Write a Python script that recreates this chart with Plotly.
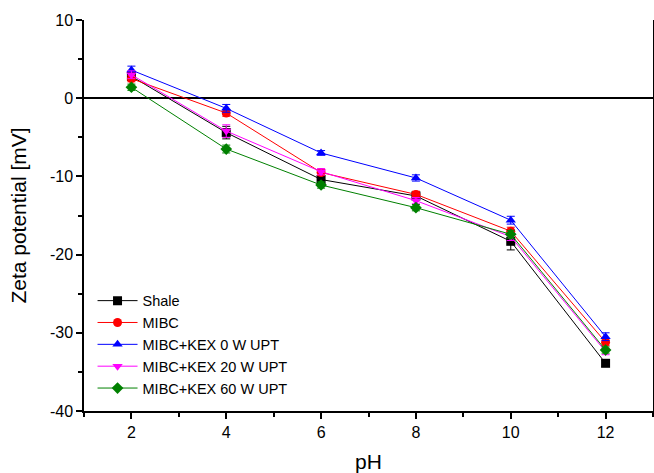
import plotly.graph_objects as go

ph = [2, 4, 6, 8, 10, 12]

names = ["Shale", "MIBC", "MIBC+KEX 0 W UPT", "MIBC+KEX 20 W UPT", "MIBC+KEX 60 W UPT"]

shale = [2.8, -4.4, -10.4, -12.5, -18.3, -33.9]
mibc = [2.5, -1.9, -9.5, -12.3, -17.0, -31.2]
kex0 = [3.6, -1.3, -7.0, -10.2, -15.6, -30.5]
kex20 = [3.0, -4.2, -9.4, -13.1, -17.7, -32.4]
kex60 = [1.4, -6.5, -11.1, -14.0, -17.4, -32.2]

err_shale = [0.5, 0.8, 0.4, 0.4, 1.1, 0.4]
err_mibc = [0.4, 0.4, 0.4, 0.4, 0.5, 0.4]
err_kex0 = [0.5, 0.5, 0.3, 0.4, 0.5, 0.5]
err_kex20 = [0.5, 0.8, 0.4, 0.4, 0.5, 0.4]
err_kex60 = [0.4, 0.5, 0.4, 0.4, 0.5, 0.4]

x_ticks = [2, 4, 6, 8, 10, 12]
y_ticks = [-40, -30, -20, -10, 0, 10]
y_tick_labels = ["-40", "-30", "-20", "-10", "0", "10"]

series = [shale, mibc, kex0, kex20, kex60]
errors = [err_shale, err_mibc, err_kex0, err_kex20, err_kex60]
colors = ["#000000", "#ff0000", "#0000ff", "#ff00ff", "#008000"]
symbols = ["square", "circle", "triangle-up", "triangle-down", "diamond"]

fig = go.Figure()
for name, ys, es, c, s in zip(names, series, errors, colors, symbols):
    fig.add_trace(go.Scatter(
        x=ph, y=ys, name=name, mode="lines+markers",
        line=dict(color=c, width=1),
        marker=dict(symbol=s, size=9, color=c),
        error_y=dict(type="data", array=es, visible=True, color=c, thickness=1, width=4),
    ))

font = "Arial, Liberation Sans, sans-serif"
fig.update_layout(
    width=654, height=473,
    margin=dict(l=84, r=1, t=20, b=62),
    paper_bgcolor="white", plot_bgcolor="white",
    font=dict(family=font, size=16, color="black"),
    showlegend=True,
    legend=dict(x=0.015, y=0.323, xanchor="left", yanchor="top",
                font=dict(size=14.5, family=font), bgcolor="rgba(0,0,0,0)",
                tracegroupgap=0, itemwidth=40),
)
fig.update_xaxes(
    range=[1, 13], tickmode="array", tickvals=x_ticks,
    ticks="outside", ticklen=6, tickwidth=1.5, tickcolor="black",
    showline=True, linecolor="black", linewidth=1.5, mirror=False,
    showgrid=False, zeroline=False, automargin=False,
    minor=dict(dtick=1, tick0=1, ticks="outside", ticklen=4, tickwidth=1.5, tickcolor="black"),
    title=dict(text="pH", font=dict(size=21), standoff=18),
    tickfont=dict(size=16),
)
fig.update_yaxes(
    range=[-40, 10], tickmode="array", tickvals=y_ticks, ticktext=y_tick_labels,
    ticks="outside", ticklen=6, tickwidth=1.5, tickcolor="black",
    showline=True, linecolor="black", linewidth=1.5, mirror=True,
    showgrid=False, zeroline=True, zerolinecolor="black", zerolinewidth=1.5,
    automargin=False,
    minor=dict(dtick=5, tick0=0, ticks="outside", ticklen=4, tickwidth=1.5, tickcolor="black"),
    title=dict(text="Zeta potential [mV]", font=dict(size=21), standoff=18),
    tickfont=dict(size=16),
)

fig.write_html("out.html", config={"displayModeBar": False})
with open("out.html", "r", encoding="utf-8") as f:
    html = f.read()
html = html.replace("<head>", "<head><style>html,body{margin:0;padding:0;overflow:hidden;}</style>", 1)
with open("out.html", "w", encoding="utf-8") as f:
    f.write(html)
